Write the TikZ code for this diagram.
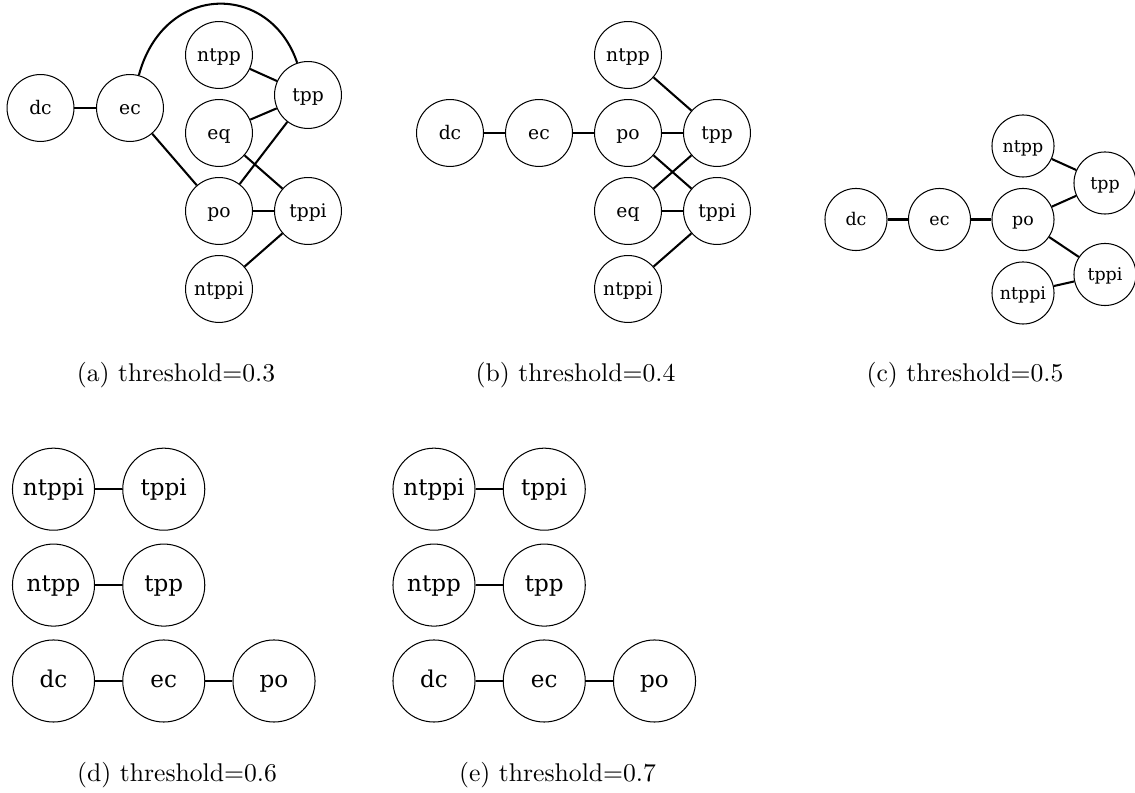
\documentclass[tikz,border=0pt]{standalone}
\usepackage{fontspec}
\usepackage{tikz}
\usetikzlibrary{positioning}
\newfontfamily\gvfont{DejaVu Serif}
\tikzstyle{rel} = [circle, draw=black, line width=0.4pt, inner sep=0pt, minimum size=26.1pt, text height=1.45ex, text depth=0.3ex, font=\gvfont\fontsize{7.3}{8}\selectfont]
\tikzstyle{relsmall} = [rel, minimum size=24.2pt, font=\gvfont\fontsize{6.8}{8}\selectfont]
\tikzstyle{relbig} = [rel, minimum size=32pt, font=\gvfont\fontsize{9}{10}\selectfont]
\tikzstyle{link} = [line width=0.8pt]
\tikzstyle{subcap} = [font=\normalsize, inner sep=0pt]

\begin{document}
\begin{tikzpicture}[x=0.39pt, y=-0.39pt]
\useasboundingbox (0,0) rectangle (1135,793);

% (a) threshold=0.3
\node[rel] (a-dc) at (40.5,108) {dc};
\node[rel] (a-ec) at (130,108) {ec};
\node[rel] (a-ntpp) at (219,55) {ntpp};
\node[rel] (a-tpp) at (308,95) {tpp};
\node[rel] (a-eq) at (219,133) {eq};
\node[rel] (a-po) at (219,211) {po};
\node[rel] (a-tppi) at (308,211) {tppi};
\node[rel] (a-ntppi) at (219,289) {ntppi};
\draw[link] (a-dc) -- (a-ec);
\draw[link] (a-ec) .. controls (164,-18) and (270,-18) .. (a-tpp);
\draw[link] (a-ec) -- (a-po);
\draw[link] (a-ntpp) -- (a-tpp);
\draw[link] (a-eq) -- (a-tpp);
\draw[link] (a-eq) -- (a-tppi);
\draw[link] (a-po) -- (a-tpp);
\draw[link] (a-po) -- (a-tppi);
\draw[link] (a-tppi) -- (a-ntppi);
\node[subcap] (cap-a) at (176,375) {(a) threshold=0.3};

% (b) threshold=0.4
\node[rel] (b-dc) at (450,133) {dc};
\node[rel] (b-ec) at (539,133) {ec};
\node[rel] (b-po) at (628,133) {po};
\node[rel] (b-tpp) at (717,133) {tpp};
\node[rel] (b-ntpp) at (628,55) {ntpp};
\node[rel] (b-eq) at (628,211) {eq};
\node[rel] (b-tppi) at (717,211) {tppi};
\node[rel] (b-ntppi) at (628,289) {ntppi};
\draw[link] (b-dc) -- (b-ec);
\draw[link] (b-ec) -- (b-po);
\draw[link] (b-po) -- (b-tpp);
\draw[link] (b-ntpp) -- (b-tpp);
\draw[link] (b-po) -- (b-tppi);
\draw[link] (b-eq) -- (b-tpp);
\draw[link] (b-eq) -- (b-tppi);
\draw[link] (b-tppi) -- (b-ntppi);
\node[subcap] (cap-b) at (575.5,375) {(b) threshold=0.4};

% (c) threshold=0.5
\node[relsmall] (c-dc) at (856,219.5) {dc};
\node[relsmall] (c-ec) at (939.5,219.5) {ec};
\node[relsmall] (c-po) at (1023,219.5) {po};
\node[relsmall] (c-ntpp) at (1023,146) {ntpp};
\node[relsmall] (c-tpp) at (1105,183) {tpp};
\node[relsmall] (c-tppi) at (1105,274.5) {tppi};
\node[relsmall] (c-ntppi) at (1023,293) {ntppi};
\draw[link] (c-dc) -- (c-ec);
\draw[link] (c-ec) -- (c-po);
\draw[link] (c-po) -- (c-tpp);
\draw[link] (c-ntpp) -- (c-tpp);
\draw[link] (c-po) -- (c-tppi);
\draw[link] (c-ntppi) -- (c-tppi);
\node[subcap] (cap-c) at (965,375) {(c) threshold=0.5};

% (d) threshold=0.6
\node[relbig] (d-dc) at (53.5,681) {dc};
\node[relbig, right=10.6pt of d-dc] (d-ec) {ec};
\node[relbig, right=10.6pt of d-ec] (d-po) {po};
\node[relbig, above=5pt of d-dc] (d-ntpp) {ntpp};
\node[relbig, right=10.6pt of d-ntpp] (d-tpp) {tpp};
\node[relbig, above=5pt of d-ntpp] (d-ntppi) {ntppi};
\node[relbig, right=10.6pt of d-ntppi] (d-tppi) {tppi};
\draw[link] (d-ntppi) -- (d-tppi);
\draw[link] (d-ntpp) -- (d-tpp);
\draw[link] (d-dc) -- (d-ec);
\draw[link] (d-ec) -- (d-po);
\node[subcap] (cap-d) at (177,775) {(d) threshold=0.6};

% (e) threshold=0.7
\node[relbig] (e-dc) at (434,681) {dc};
\node[relbig, right=10.6pt of e-dc] (e-ec) {ec};
\node[relbig, right=10.6pt of e-ec] (e-po) {po};
\node[relbig, above=5pt of e-dc] (e-ntpp) {ntpp};
\node[relbig, right=10.6pt of e-ntpp] (e-tpp) {tpp};
\node[relbig, above=5pt of e-ntpp] (e-ntppi) {ntppi};
\node[relbig, right=10.6pt of e-ntppi] (e-tppi) {tppi};
\draw[link] (e-ntppi) -- (e-tppi);
\draw[link] (e-ntpp) -- (e-tpp);
\draw[link] (e-dc) -- (e-ec);
\draw[link] (e-ec) -- (e-po);
\node[subcap] (cap-e) at (557.5,775) {(e) threshold=0.7};
\end{tikzpicture}
\end{document}
